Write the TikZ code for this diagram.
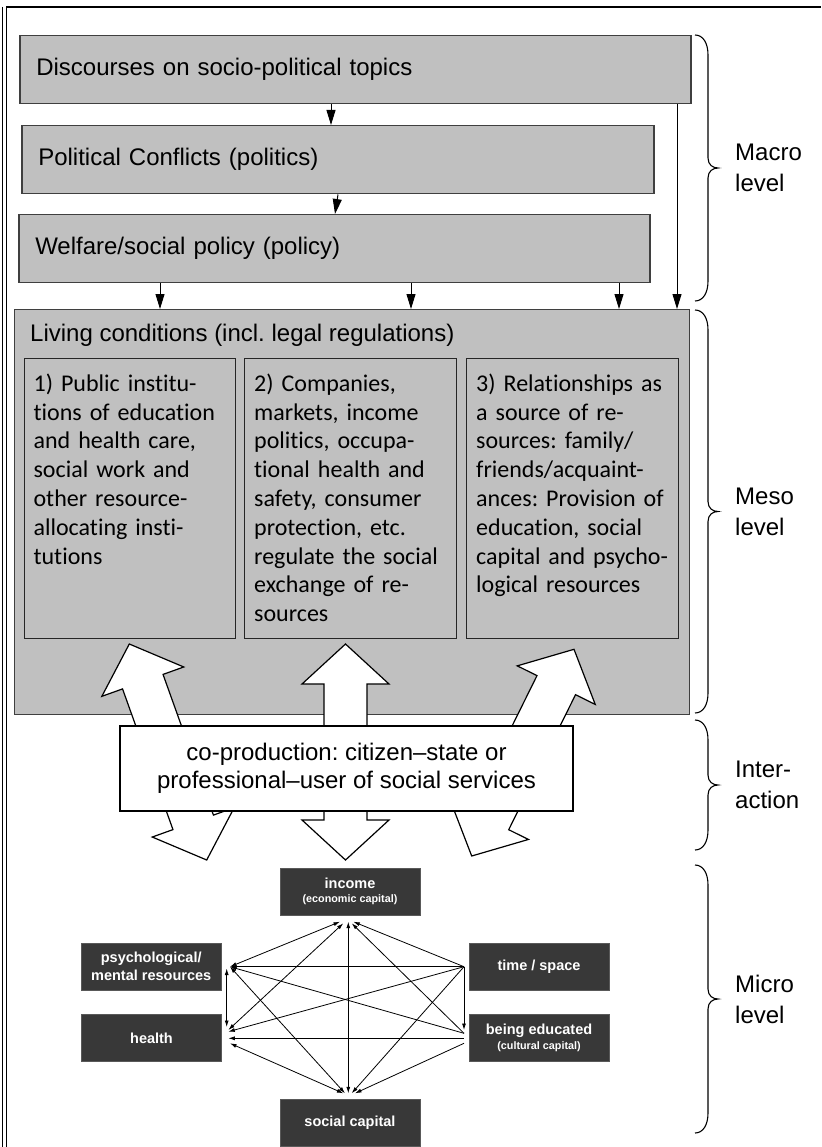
\documentclass[tikz,border=0pt]{standalone}
\usepackage{fontspec}
\setmainfont{Liberation Sans}
\newfontfamily\calfont[Ligatures={NoCommon}]{Carlito}
\usetikzlibrary{arrows.meta,calc}
\definecolor{boxgrey}{HTML}{C0C0C0}
\definecolor{boxedge}{HTML}{3F3F3F}
\definecolor{darkbox}{HTML}{383838}
\newcommand\subcap{\bfseries\fontsize{10.8}{12}\selectfont}
\newcommand\dblarrow[2]{%
  \path ($(#1)!40pt!(#2)$) coordinate (ha) ($(#2)!40pt!(#1)$) coordinate (hb);
  \draw[blockarr] (#1) -- ($(ha)!43.5pt!90:(#2)$) -- ($(ha)!21.5pt!90:(#2)$)
    -- ($(hb)!21.5pt!-90:(#1)$) -- ($(hb)!43.5pt!-90:(#1)$) -- (#2)
    -- ($(hb)!43.5pt!90:(#1)$) -- ($(hb)!21.5pt!90:(#1)$)
    -- ($(ha)!21.5pt!-90:(#2)$) -- ($(ha)!43.5pt!-90:(#2)$) -- cycle;}
\newcommand\levelbrace[2]{%
  \draw[line width=1.1pt] (695,#1) .. controls (703,#1) and (708,#1+8) .. (708,#1+20)
    -- (708,{(#1+#2)/2-10}) .. controls (708,{(#1+#2)/2-3}) and (713,{(#1+#2)/2}) .. (718,{(#1+#2)/2})
    .. controls (713,{(#1+#2)/2}) and (708,{(#1+#2)/2+3}) .. (708,{(#1+#2)/2+10})
    -- (708,#2-20) .. controls (708,#2-8) and (703,#2) .. (695,#2);}
\frenchspacing
\begin{document}
\begin{tikzpicture}[x=1pt,y=-1pt,
  topbox/.style={draw=boxedge,line width=1.5pt,fill=boxgrey,anchor=north west,
    inner xsep=16.5pt,inner ysep=0pt,align=left,font=\fontsize{24}{29}\selectfont},
  subbox/.style={draw=black!85,line width=1pt,fill=boxgrey,anchor=north west,inner sep=0pt},
  subtext/.style={anchor=north west,inner sep=0pt,text width=205pt,align=left,
    font=\calfont\frenchspacing\fontsize{24}{28.8}\selectfont},
  conn/.style={-{Triangle[length=15pt,width=9pt]},line width=1pt},
  blockarr/.style={draw=black,fill=white,line width=1.2pt,line join=miter},
  lvl/.style={anchor=west,align=left,inner sep=0pt,font=\fontsize{24}{31}\selectfont},
  mbox/.style={fill=darkbox,draw=black!65,line width=0.6pt,text=white,minimum width=140pt,
    minimum height=47pt,inner sep=0pt,align=center,font=\bfseries\fontsize{14.5}{17.5}\selectfont},
  net/.style={line width=0.8pt,>={Latex[length=6.5pt,width=4pt]}}]
\useasboundingbox (0,0) rectangle (821,1147);
% outer frame (cropped)
\draw[line width=1.2pt] (6.5,1147) -- (6.5,7) -- (821,7);
\draw[line width=1pt] (2.7,7) -- (2.7,1147);

% macro level boxes
\node[topbox,minimum width=671pt,minimum height=68pt,text width=638pt] (disc) at (19,35) {Discourses on socio-political topics};
\node[topbox,minimum width=632pt,minimum height=68pt,text width=599pt] (pol) at (21,125) {Political Conflicts (politics)};
\node[topbox,minimum width=631pt,minimum height=68pt,text width=598pt] (wel) at (18,214) {Welfare/social policy (policy)};

% meso level
\node[draw=boxedge,line width=1.3pt,fill=boxgrey,anchor=north west,minimum width=675pt,minimum height=405pt,inner sep=0pt] (liv) at (14,309) {};
\node[anchor=base west,inner sep=0pt,font=\fontsize{24}{29}\selectfont] (livlab) at (30,341) {Living conditions (incl. legal regulations)};
\node[subbox,minimum width=211pt,minimum height=280.5pt] (sub1) at (23.5,357.5) {};
\node[subbox,minimum width=212pt,minimum height=280.5pt] (sub2) at (243.5,357.5) {};
\node[subbox,minimum width=212pt,minimum height=280.5pt] (sub3) at (465.5,357.5) {};
\node[subtext] (t1) at (33.4,371) {\rule{0pt}{20pt}1) Public institu-\\tions of education\\and health care,\\social work and\\other resource-\\allocating insti-\\tutions};
\node[subtext] (t2) at (254,371) {\rule{0pt}{20pt}2) Companies,\\markets, income\\politics, occupa-\\tional health and\\safety, consumer\\protection, etc.\\regulate the social\\exchange of re-\\sources};
\node[subtext] (t3) at (476,371) {\rule{0pt}{20pt}3) Relationships as\\a source of re-\\sources: family/\\friends/acquaint-\\ances: Provision of\\education, social\\capital and psycho-\\logical resources};

% small arrows
\draw[conn] ([xshift=312pt]disc.south west) -- ([xshift=310pt]pol.north west);
\draw[conn] ([xshift=317pt]pol.south west) -- ([xshift=317pt]wel.north west);
\draw[conn] ([xshift=142pt]wel.south west) -- ([xshift=146pt]liv.north west);
\draw[conn] ([xshift=393pt]wel.south west) -- ([xshift=397pt]liv.north west);
\draw[conn] ([xshift=601pt]wel.south west) -- ([xshift=605pt]liv.north west);
\draw[conn] ([xshift=658pt]disc.south west) -- ([xshift=663pt]liv.north west);

% block arrows
\coordinate (a1) at (129.3,644); \coordinate (b1) at (206.7,860);
\coordinate (a2) at (345.5,644); \coordinate (b2) at (345.5,860);
\coordinate (a3) at (574,649.3); \coordinate (b3) at (471.7,856);
\dblarrow{a1}{b1}
\dblarrow{a2}{b2}
\dblarrow{a3}{b3}

% interaction
\node[draw=black,line width=1.2pt,fill=white,minimum width=453pt,minimum height=85pt,inner sep=0pt,
  align=center,font=\fontsize{24}{28.5}\selectfont] (coprod) at (346.5,768.5)
  {co-production: citizen–state or\\professional–user of social services};

% micro level
\node[mbox] (inc) at (350,891.5) {income\\[-3pt]{\subcap (economic capital)}};
\node[mbox] (psy) at (151.2,966.5) {psychological/\\mental resources};
\node[mbox] (hea) at (151.5,1038) {health};
\node[mbox] (tim) at (539,966.5) {time / space};
\node[mbox] (edu) at (539,1038) {being educated\\[-3pt]{\subcap (cultural capital)}};
\node[mbox] (soc) at (350,1122.5) {social capital};

\coordinate (P1) at (230,966.7);
\coordinate (Pv) at (226.7,968.5);
\coordinate (Hv) at (226.7,1027);
\coordinate (H1) at (228.3,1030);
\coordinate (H2) at (228.3,1031.7);
\coordinate (H3) at (228.3,1038.3);
\coordinate (H4) at (230,1043.3);
\coordinate (I1) at (340,921.7);
\coordinate (I2) at (343.3,923.3);
\coordinate (I3) at (348.3,921.7);
\coordinate (I4) at (351.7,923.3);
\coordinate (I5) at (353.3,921.7);
\coordinate (T0) at (464,966.7);
\coordinate (E1) at (464,1030);
\coordinate (E2) at (464,1033.3);
\coordinate (E3) at (464,1038.3);
\coordinate (E4) at (464,1043.3);
\coordinate (S1) at (345,1093.3);
\coordinate (S2) at (343.3,1093.3);
\coordinate (S3) at (348.3,1093.3);
\coordinate (S4) at (351.7,1093.3);
\coordinate (S5) at (355,1093.3);

\draw[net,<->] (P1) -- (I1);
\draw[net,<-] (P1) -- (T0);
\draw[net,<->] (Pv) -- (Hv);
\draw[net,<-] (P1) -- (E2);
\draw[net,<->] (P1) -- (S1);
\draw[net,<->] (H1) -- (I2);
\draw[net,<-] (H2) -- (T0);
\draw[net,<-] (H3) -- (E3);
\draw[net,<->] (H4) -- (S2);
\draw[net,<->] (I3) -- (S3);
\draw[net,<-] (I5) -- (T0);
\draw[net,<-] (I4) -- (E2);
\draw[net,->] (T0) -- (E1);
\draw[net,->] (T0) -- (S4);
\draw[net,->] (E4) -- (S5);

% level braces and labels
\levelbrace{35}{301}
\levelbrace{310}{713}
\levelbrace{720}{850}
\levelbrace{865}{1133}
\node[lvl] (macl) at (735,168) {Macro\\level};
\node[lvl] (mesl) at (735,511.5) {Meso\\level};
\node[lvl] (intl) at (735,785) {Inter-\\action};
\node[lvl] (micl) at (735,999) {Micro\\level};
\end{tikzpicture}
\end{document}
